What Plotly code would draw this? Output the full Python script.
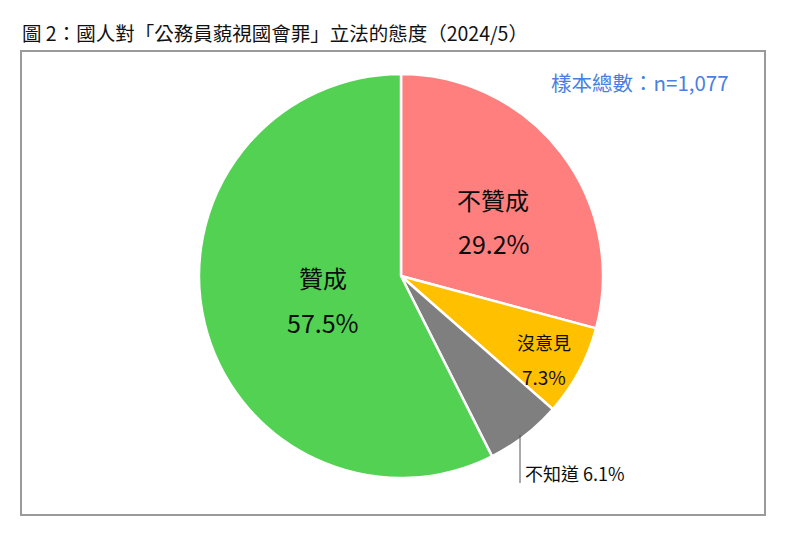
import plotly.graph_objects as go

labels = ["不贊成", "沒意見", "不知道", "贊成"]
values = [29.2, 7.3, 6.1, 57.5]
colors = ["#FF7F7F", "#FFC000", "#7F7F7F", "#52D152"]
title_text = "圖 2：國人對「公務員藐視國會罪」立法的態度（2024/5）"
sample_text = "樣本總數：n=1,077"

W, H = 800, 538
OFF = 8  # page body margin
cx, cy, r = 401, 276, 202

def px(x):
    return (x - OFF) / W

def py(y):
    return 1 - (y - OFF) / H

fig = go.Figure(go.Pie(
    labels=labels,
    values=values,
    sort=False,
    direction="clockwise",
    rotation=0,
    marker=dict(colors=colors, line=dict(color="white", width=2.5)),
    textinfo="none",
    hoverinfo="label+percent",
    showlegend=False,
    domain=dict(x=[px(cx - r), px(cx + r)], y=[py(cy + r), py(cy - r)]),
))

font_main = "Noto Sans CJK TC, Noto Sans, sans-serif"
dark = "#0d0d0d"
ann = []
label_pos = {
    "不贊成": ((493, 199, 24), (494, 243, 25)),
    "贊成": ((323, 277, 24), (323, 322, 25)),
    "沒意見": ((544, 342, 18), (544, 376, 19)),
}
for lab, val in zip(labels, values):
    if lab in label_pos:
        (x1, y1, s1), (x2, y2, s2) = label_pos[lab]
        ann.append(dict(x=px(x1), y=py(y1), xref="paper", yref="paper", text=lab,
                        xanchor="center", yanchor="middle", showarrow=False,
                        font=dict(size=s1, color=dark, family=font_main)))
        ann.append(dict(x=px(x2), y=py(y2), xref="paper", yref="paper", text=f"{val}%",
                        xanchor="center", yanchor="middle", showarrow=False,
                        font=dict(size=s2, color=dark, family=font_main)))
    else:
        ann.append(dict(x=px(523), y=py(473), xref="paper", yref="paper", text=f"{lab} {val}%",
                        xanchor="left", yanchor="middle", showarrow=False,
                        font=dict(size=18, color=dark, family=font_main)))

ann.append(dict(x=px(20), y=py(32), xref="paper", yref="paper", text=title_text,
                xanchor="left", yanchor="middle", showarrow=False,
                font=dict(size=19.5, color="#111111", family=font_main)))
ann.append(dict(x=px(731), y=py(82), xref="paper", yref="paper", text=sample_text,
                xanchor="right", yanchor="middle", showarrow=False,
                font=dict(size=20.5, color="#4A7FE0", family=font_main)))

shapes = [
    dict(type="rect", xref="paper", yref="paper", x0=px(21), x1=px(765), y0=py(515), y1=py(51),
         line=dict(color="#9A9A9A", width=2), fillcolor="rgba(0,0,0,0)", layer="below"),
    dict(type="line", xref="paper", yref="paper", x0=px(520), x1=px(520), y0=py(435), y1=py(483),
         line=dict(color="#555555", width=1)),
]

fig.update_layout(
    width=W, height=H,
    margin=dict(l=0, r=0, t=0, b=0),
    paper_bgcolor="white",
    plot_bgcolor="white",
    annotations=ann,
    shapes=shapes,
)

fig.write_html("out.html")
